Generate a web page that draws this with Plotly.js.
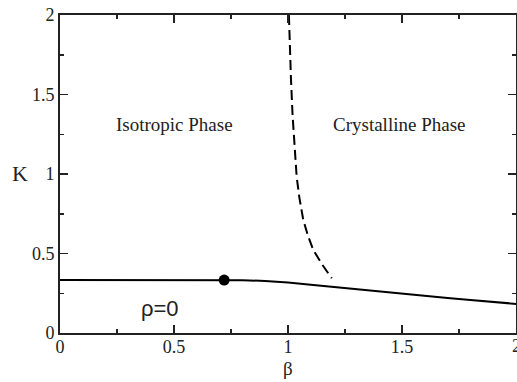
<!DOCTYPE html>
<html>
<head>
<meta charset="utf-8">
<script src="https://cdn.plot.ly/plotly-3.0.1.min.js"></script>
<style>html,body{margin:0;padding:0;background:#fff}#chart{width:517px;height:382px}</style>
</head>
<body>
<div id="chart"></div>
<script>
// Solid transition line K(beta)
const betaSolid = [0, 0.2, 0.4, 0.6, 0.72, 0.8, 0.9, 1.0, 1.1, 1.2, 1.3, 1.4, 1.5, 1.6, 1.7, 1.8, 1.9, 2.0];
const kSolid    = [0.333, 0.333, 0.333, 0.333, 0.333, 0.332, 0.327, 0.318, 0.303, 0.289, 0.274, 0.259, 0.245, 0.232, 0.220, 0.208, 0.195, 0.183];
// Dashed spinodal line
const betaDashed = [1.004, 1.008, 1.013, 1.020, 1.028, 1.038, 1.050, 1.067, 1.088, 1.111, 1.150, 1.192];
const kDashed    = [2.0, 1.8, 1.6, 1.371, 1.18, 0.983, 0.85, 0.711, 0.61, 0.522, 0.43, 0.344];
// Special point
const betaPoint = [0.72];
const kPoint = [0.333];
// Tick labels
const tickVals = [0, 0.5, 1, 1.5, 2];
const tickText = ["0", "0.5", "1", "1.5", "2"];
// Region labels
const labelText = ["Isotropic Phase", "Crystalline Phase", "ρ=0"];
const labelBeta = [0.5, 1.487, 0.44];
const labelK = [1.31, 1.31, 0.155];

const font = "Liberation Serif";
const sans = "Liberation Sans";
const ink = "#222";

const traces = [
  {x: betaSolid, y: kSolid, mode: "lines", line: {color: "#000", width: 2}, hoverinfo: "skip"},
  {x: betaDashed, y: kDashed, mode: "lines", line: {color: "#000", width: 2, dash: "10px,5px"}, hoverinfo: "skip"},
  {x: betaPoint, y: kPoint, mode: "markers", marker: {color: "#000", size: 11}, hoverinfo: "skip"}
];

const axisBase = {
  range: [0, 2],
  tickvals: tickVals,
  ticktext: tickText,
  ticks: "inside",
  ticklen: 8,
  tickwidth: 1.5,
  tickcolor: "#222",
  showline: true,
  linewidth: 2,
  linecolor: "#222",
  mirror: "allticks",
  showgrid: false,
  zeroline: false,
  tickfont: {family: font, size: 18, color: ink},
  minor: {dtick: 0.25, ticks: "inside", ticklen: 4, tickwidth: 1.5, tickcolor: "#222", showgrid: false},
  fixedrange: true
};

const annotations = labelText.map((t, i) => ({
  x: labelBeta[i], y: labelK[i], xref: "x", yref: "y", text: t, showarrow: false,
  font: {family: i === 2 ? sans : font, size: i === 2 ? 22 : 19, color: ink}
}));
annotations.push({x: -0.0877, y: 0.503, xref: "paper", yref: "paper", text: "K", showarrow: false,
  font: {family: font, size: 22, color: ink}, xanchor: "center", yanchor: "middle"});
annotations.push({x: 0.5, y: -0.148, xref: "paper", yref: "paper", text: "β", showarrow: false,
  font: {family: font, size: 19, color: ink}, xanchor: "center", yanchor: "bottom", borderpad: 0});
// last x tick label, clipped at the right edge as in the original
annotations.push({x: 1, y: -0.004, xref: "paper", yref: "paper", text: tickText[4], showarrow: false,
  font: {family: font, size: 18, color: ink}, xanchor: "center", yanchor: "top"});

const layout = {
  width: 517, height: 382,
  margin: {l: 60, r: 1, t: 15, b: 49},
  paper_bgcolor: "#fff", plot_bgcolor: "#fff",
  showlegend: false,
  font: {family: font},
  xaxis: Object.assign({}, axisBase, {ticklabelstandoff: -4}),
  yaxis: Object.assign({}, axisBase),
  annotations: annotations
};

Plotly.newPlot("chart", traces, layout, {displayModeBar: false, staticPlot: true});
</script>
</body>
</html>
